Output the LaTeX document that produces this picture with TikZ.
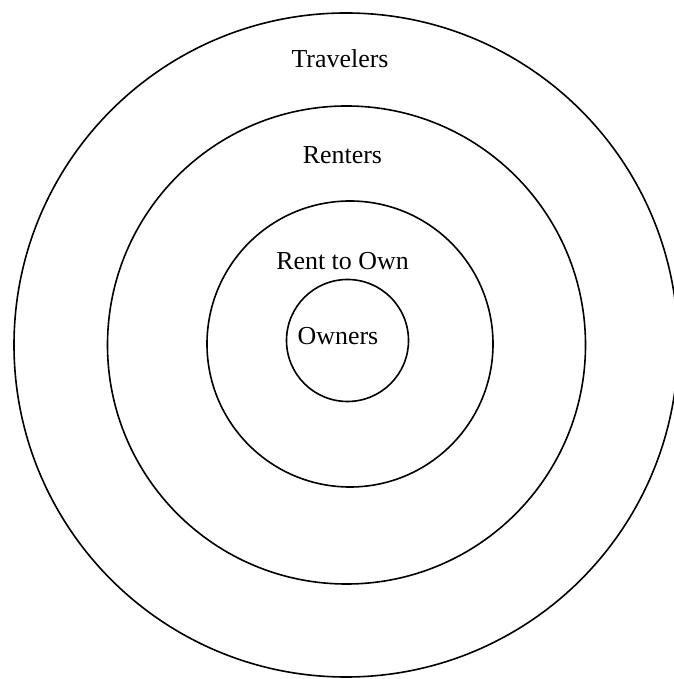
\documentclass[tikz,border=0pt]{standalone}
\usepackage{fontspec}
\setmainfont{Liberation Serif}
\usepackage{tikz}
\usetikzlibrary{positioning,shapes.geometric}

\begin{document}
\begin{tikzpicture}[
    x=1bp, y=1bp,
    ring/.style={draw, circle, line width=1.6bp, inner sep=0pt},
    ringlabel/.style={anchor=base, inner sep=0pt, font=\fontsize{26}{30}\selectfont}
]
    % Page frame (outer ring runs off the right edge)
    \clip (0,0) rectangle (674,679);

    % Rings, from outside in
    \node[ring, minimum size=664bp] (travel) at (346,334) {};
    \node[ring, minimum size=478bp] (rent) at (346.5,334) {};
    \node[ring, minimum size=286bp] (renttoown) at (350,335) {};
    \node[ring, minimum size=122bp] (own) at (347.5,338.5) {};

    % Labels
    \node[ringlabel] (travellbl) at (340,611) {Travelers};
    \node[ringlabel] (rentlbl) at (342.5,515) {Renters};
    \node[ringlabel] (renttoownlbl) at (342.5,409) {Rent to Own};
    \node[ringlabel] (ownlbl) at (338,334) {Owners};
\end{tikzpicture}
\end{document}
